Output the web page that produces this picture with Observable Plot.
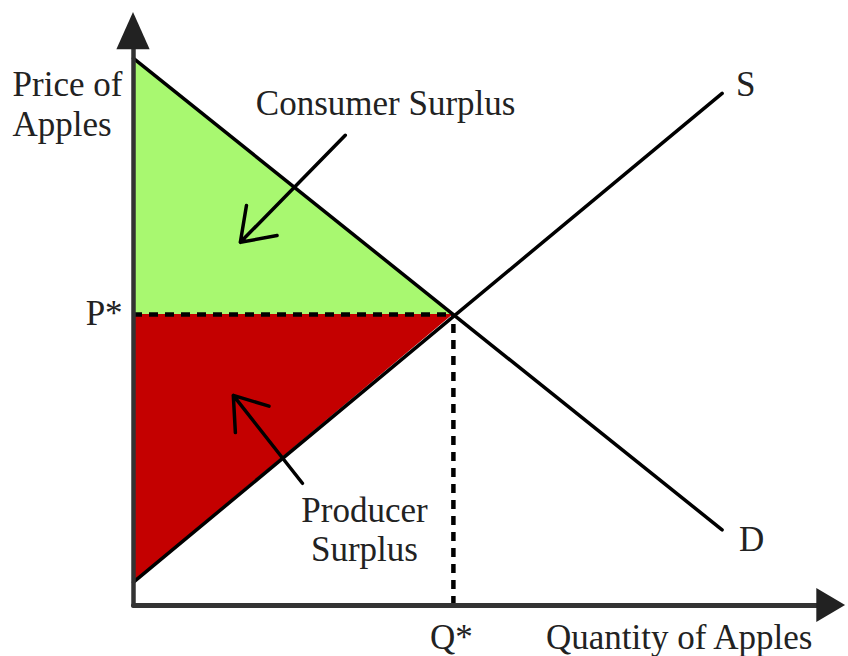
<!DOCTYPE html>
<html>
<head>
<meta charset="utf-8">
<script src="https://cdn.jsdelivr.net/npm/d3@7"></script>
<script src="https://cdn.jsdelivr.net/npm/@observablehq/plot@0.6"></script>
<style>
  html, body { margin: 0; padding: 0; background: #fff; }
  #chart svg { display: block; overflow: visible; }
</style>
</head>
<body>
<div id="chart"></div>
<script>
// Curves (quantity, price) in abstract units
const demand = [{q: 0, p: 94}, {q: 92, p: 13}];
const supply = [{q: 0, p: 4}, {q: 92, p: 88}];
const equilibrium = {q: 50, p: 50};

// Surplus regions
const consumerSurplus = [{q: 0, top: 94, bottom: 50}, {q: 50, top: 50, bottom: 50}];
const producerSurplus = [{q: 0, top: 50, bottom: 4}, {q: 50, top: 50, bottom: 50}];

// Axis extents and heads
const yAxisLine = [{q: 0, p: 0}, {q: 0, p: 96}];
const xAxisLine = [{q: 0, p: 0}, {q: 107.5, p: 0}];
const yAxisHead = [{p: 95.5, a: -2.6, b: 2.6}, {p: 101.9, a: 0, b: 0}];
const xAxisHead = [{q: 106.8, a: -2.9, b: 2.9}, {q: 111.3, a: 0, b: 0}];

// Annotation arrows
const pointers = [
  {q1: 33.1, p1: 80.8, q2: 16.7, p2: 62.4},
  {q1: 26.4, p1: 21.0, q2: 15.6, p2: 36.1}
];

// Labels
const centeredLabels = [
  {q: 39.4, p: 86.4, text: "Consumer Surplus"},
  {q: 36.1, p: 13.2, text: "Producer\nSurplus"},
  {q: 95.7, p: 89.7, text: "S"},
  {q: 96.6, p: 11.5, text: "D"},
  {q: 49.7, p: -5.3, text: "Q*"},
  {q: 85.3, p: -5.3, text: "Quantity of Apples"}
];
const rightLabels = [
  {q: -1.7, p: 50.3, text: "P*"}
];
const leftLabels = [
  {q: -18.9, p: 86.3, text: "Price of\nApples"}
];

const font = "'Liberation Serif', 'DejaVu Serif', serif";
const textStyle = {x: "q", y: "p", text: "text", fontSize: 35, lineHeight: 1.13, fill: "#222", fontFamily: font};

const chart = Plot.plot({
  width: 848,
  height: 656,
  margin: 0,
  x: {domain: [0, 100], range: [133, 772.8], axis: null},
  y: {domain: [0, 100], range: [605, 23], axis: null},
  style: {fontFamily: font, background: "#fff"},
  marks: [
    Plot.areaY(consumerSurplus, {x: "q", y1: "bottom", y2: "top", fill: "#a8f870"}),
    Plot.areaY(producerSurplus, {x: "q", y1: "bottom", y2: "top", fill: "#c40000"}),
    Plot.ruleY([equilibrium], {y: "p", x1: 0, x2: "q", stroke: "#000", strokeWidth: 4.5, strokeDasharray: "9,7"}),
    Plot.ruleX([equilibrium], {x: "q", y1: 0, y2: "p", stroke: "#000", strokeWidth: 4.5, strokeDasharray: "9,7"}),
    Plot.line(demand, {x: "q", y: "p", stroke: "#000", strokeWidth: 3.5}),
    Plot.line(supply, {x: "q", y: "p", stroke: "#000", strokeWidth: 3.5}),
    Plot.line(yAxisLine, {x: "q", y: "p", stroke: "#333", strokeWidth: 4.5}),
    Plot.line(xAxisLine, {x: "q", y: "p", stroke: "#333", strokeWidth: 5}),
    Plot.areaX(yAxisHead, {y: "p", x1: "a", x2: "b", fill: "#222"}),
    Plot.areaY(xAxisHead, {x: "q", y1: "a", y2: "b", fill: "#222"}),
    Plot.arrow(pointers, {x1: "q1", y1: "p1", x2: "q2", y2: "p2", stroke: "#000", strokeWidth: 3.5, headLength: 16, headAngle: 70}),
    Plot.text(centeredLabels, {...textStyle, textAnchor: "middle"}),
    Plot.text(rightLabels, {...textStyle, textAnchor: "end"}),
    Plot.text(leftLabels, {...textStyle, textAnchor: "start"})
  ]
});
document.getElementById("chart").appendChild(chart);
</script>
</body>
</html>
